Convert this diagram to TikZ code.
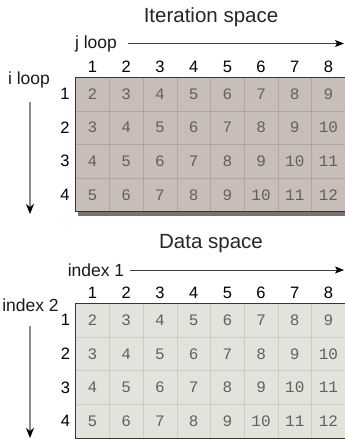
\documentclass[tikz,border=0pt]{standalone}
\usepackage{fontspec}
\setmainfont{Liberation Sans}
\newfontfamily\cellfont{Liberation Mono}
\usetikzlibrary{arrows.meta}
\definecolor{iterfill}{RGB}{200,189,183}
\definecolor{iterline}{RGB}{178,165,158}
\definecolor{datafill}{RGB}{227,226,219}
\definecolor{dataline}{RGB}{204,203,196}
\definecolor{borderc}{RGB}{55,55,55}
\begin{document}
\begin{tikzpicture}[x=1pt,y=-1pt,
  titletxt/.style={font=\fontsize{20.5}{20.5}\selectfont, text=black!85, inner sep=0},
  lbltxt/.style={font=\fontsize{17.5}{17.5}\selectfont, text=black!90, inner sep=0},
  idxtxt/.style={font=\fontsize{16.5}{16.5}\selectfont, text=black, inner sep=0},
  celltxt/.style={font=\cellfont\fontsize{16}{16}\selectfont, text=black!62,
     minimum width=33.7pt, minimum height=33.6pt, inner sep=0, line width=0.5pt},
  itercell/.style={celltxt, fill=iterfill, draw=iterline},
  datacell/.style={celltxt, fill=datafill, draw=dataline},
  harrow/.style={draw=black!75, line width=0.8pt, -{Stealth[length=9pt,width=7pt,inset=2pt,color=black]}},
  varrow/.style={draw=black!45, line width=1.8pt, -{Stealth[length=10pt,width=8pt,inset=3pt,color=black]}},
  outline/.style={draw=borderc, line width=1pt}
]
\useasboundingbox (0,0) rectangle (345,439);

% ---------- Iteration space ----------
\node[titletxt] (t1) at (211,17) {Iteration space};
\node[lbltxt] (jl) at (96,43.5) {j loop};
\coordinate (jend) at (344,43.5);
\draw[harrow] (jl.east) ++(11,0) coordinate (jstart) (jstart) -- (jend);
\node[lbltxt] (il) at (29,80) {i loop};
\coordinate (iend) at (30,214);
\coordinate (istart) at (30,102);
\draw[varrow] (istart) -- (iend);

\fill[black!55] (78,80) rectangle (350,215.5);
\foreach \i in {1,...,4}{
  \node[idxtxt] (ra\i) at (65,{77.3+(\i-0.5)*33.6}) {\i};
  \foreach \j in {1,...,8}{
    \pgfmathtruncatemacro{\v}{\i+\j}
    \node[itercell] (a-\i-\j) at ({75.7+(\j-0.5)*33.7},{77.3+(\i-0.5)*33.6}) {\v};
  }
}
\foreach \j in {1,...,8}{
  \node[idxtxt] (ca\j) at ({75.7+(\j-0.5)*33.7},67) {\j};
}
\draw[outline] (a-1-1.north west) rectangle (a-4-8.south east);

% ---------- Data space ----------
\node[titletxt] (t2) at (211,243.5) {Data space};
\node[lbltxt] (d1) at (96,270) {index 1};
\coordinate (dend) at (344,270);
\draw[harrow] (d1.east) ++(6,0) coordinate (dstart) (dstart) -- (dend);
\node[lbltxt] (d2) at (30.5,305) {index 2};
\coordinate (d2start) at (30,326);
\coordinate (d2end) at (30,438);
\draw[varrow] (d2start) -- (d2end);

\foreach \i in {1,...,4}{
  \node[idxtxt] (rb\i) at (65.5,{303.5+(\i-0.5)*33.6}) {\i};
  \foreach \j in {1,...,8}{
    \pgfmathtruncatemacro{\v}{\i+\j}
    \node[datacell] (b-\i-\j) at ({75.7+(\j-0.5)*33.7},{303.5+(\i-0.5)*33.6}) {\v};
  }
}
\foreach \j in {1,...,8}{
  \node[idxtxt] (cb\j) at ({75.7+(\j-0.5)*33.7},293) {\j};
}
\draw[outline] (b-1-1.north west) rectangle (b-4-8.south east);
\end{tikzpicture}
\end{document}
